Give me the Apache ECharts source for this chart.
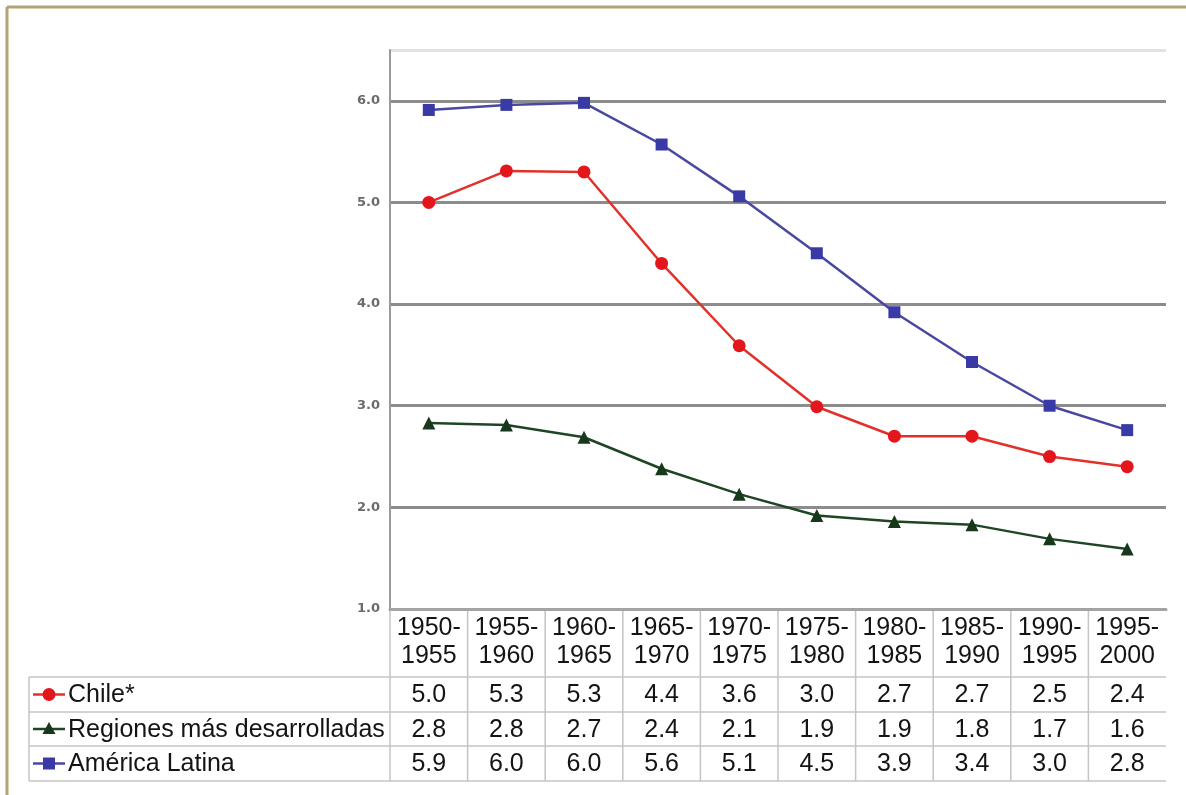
<!DOCTYPE html>
<html>
<head>
<meta charset="utf-8">
<script src="https://cdn.jsdelivr.net/npm/echarts@6/dist/echarts.min.js"></script>
<style>
  html, body { margin: 0; padding: 0; background: #ffffff; }
  #chart { width: 1186px; height: 795px; }
</style>
</head>
<body>
<div id="chart"></div>
<script>
// Tasa global de fecundidad por quinquenio
const periods = ['1950-1955', '1955-1960', '1960-1965', '1965-1970', '1970-1975',
                 '1975-1980', '1980-1985', '1985-1990', '1990-1995', '1995-2000'];
const chile      = [5.00, 5.31, 5.30, 4.40, 3.59, 2.99, 2.70, 2.70, 2.50, 2.40];
const regiones   = [2.83, 2.81, 2.69, 2.38, 2.13, 1.92, 1.86, 1.83, 1.69, 1.59];
const americaLat = [5.91, 5.96, 5.98, 5.57, 5.06, 4.50, 3.92, 3.43, 3.00, 2.76];
const seriesNames = ['Chile*', 'Regiones más desarrolladas', 'América Latina'];

const FONT = '"Liberation Sans", Arial, sans-serif';
const TEXT = '#141414';
const RULE = '#c4c4c4';
const TABLE_FS = 25;

const styles = [
  { line: '#e2312a', mark: '#e3161c', symbol: 'circle',   size: 13 },
  { line: '#1f4624', mark: '#17381a', symbol: 'triangle', size: 13 },
  { line: '#4848a2', mark: '#3a3aa6', symbol: 'rect',     size: 12 }
];
const seriesData = [chile, regiones, americaLat];

const chart = echarts.init(document.getElementById('chart'), null, { renderer: 'canvas' });

const option = {
  backgroundColor: '#ffffff',
  animation: false,
  grid: { left: 390, right: 20, top: 50, bottom: 186, containLabel: false },
  xAxis: {
    type: 'category',
    data: periods,
    boundaryGap: true,
    axisLine: { show: true, lineStyle: { color: '#a3a3a3', width: 3 } },
    axisTick: { show: false },
    axisLabel: {
      interval: 0,
      margin: 5,
      fontFamily: FONT,
      fontSize: TABLE_FS,
      lineHeight: 28,
      color: TEXT,
      formatter: v => v.replace('-', '-\n')
    },
    splitLine: { show: false }
  },
  yAxis: {
    type: 'value',
    min: 1,
    max: 6.5,
    interval: 1,
    axisLine: { show: true, lineStyle: { color: '#9a9a9a', width: 2 } },
    axisTick: { show: false },
    axisLabel: {
      margin: 10,
      fontFamily: '"DejaVu Sans", sans-serif',
      fontWeight: 'bold',
      fontSize: 13,
      color: '#6a6a6a',
      formatter: v => (Number.isInteger(v) ? v.toFixed(1) : '')
    },
    splitLine: {
      show: true,
      lineStyle: {
        width: 3,
        color: ['#a3a3a3', '#8c8c8c', '#8c8c8c', '#8c8c8c', '#8c8c8c', '#8c8c8c', '#e2e2e2']
      }
    }
  },
  series: seriesData.map((d, i) => ({
    name: seriesNames[i],
    type: 'line',
    data: d,
    smooth: false,
    symbol: styles[i].symbol,
    symbolSize: styles[i].size,
    showSymbol: true,
    lineStyle: { color: styles[i].line, width: 2.5 },
    itemStyle: { color: styles[i].mark },
    z: 3 + i
  }))
};
chart.setOption(option);

// Data table under the plot: column rules, row rules, legend keys and values
function buildTable() {
  const xs = periods.map((_, i) => chart.convertToPixel({ xAxisIndex: 0 }, i));
  const band = xs[1] - xs[0];
  const yAxisBase = chart.convertToPixel({ yAxisIndex: 0 }, 1);
  const tableLeft = 29;
  const tableRight = xs[xs.length - 1] + band / 2;
  const rowLines = [677, 712, 746, 781];
  const g = [];

  // frame
  g.push({ type: 'line', shape: { x1: 7, y1: 7, x2: 1186, y2: 7 },
           style: { stroke: '#b3a473', lineWidth: 3 }, silent: true });
  g.push({ type: 'line', shape: { x1: 7, y1: 7, x2: 7, y2: 795 },
           style: { stroke: '#b3a473', lineWidth: 3 }, silent: true });

  // horizontal rules
  rowLines.forEach(y => {
    g.push({ type: 'line', shape: { x1: tableLeft, y1: y, x2: tableRight, y2: y },
             style: { stroke: RULE, lineWidth: 1.5 }, silent: true });
  });
  // left edge of legend column
  g.push({ type: 'line', shape: { x1: tableLeft, y1: rowLines[0], x2: tableLeft, y2: rowLines[3] },
           style: { stroke: RULE, lineWidth: 1.5 }, silent: true });
  // column separators
  xs.forEach(x => {
    const lx = x - band / 2;
    g.push({ type: 'line', shape: { x1: lx, y1: yAxisBase, x2: lx, y2: rowLines[3] },
             style: { stroke: RULE, lineWidth: 1.5 }, silent: true });
  });

  seriesData.forEach((d, r) => {
    const cy = (rowLines[r] + rowLines[r + 1]) / 2;
    const st = styles[r];
    // legend key
    g.push({ type: 'line', shape: { x1: 33, y1: cy, x2: 65, y2: cy },
             style: { stroke: st.line, lineWidth: 2.5 }, silent: true });
    if (st.symbol === 'circle') {
      g.push({ type: 'circle', shape: { cx: 49, cy: cy, r: 6.5 }, style: { fill: st.mark }, silent: true });
    } else if (st.symbol === 'triangle') {
      g.push({ type: 'polygon', shape: { points: [[49, cy - 7], [42.5, cy + 5], [55.5, cy + 5]] },
               style: { fill: st.mark }, silent: true });
    } else {
      g.push({ type: 'rect', shape: { x: 43, y: cy - 6, width: 12, height: 12 },
               style: { fill: st.mark }, silent: true });
    }
    g.push({ type: 'text', x: 68, y: cy + 1, silent: true,
             style: { text: seriesNames[r], fontFamily: FONT, fontSize: TABLE_FS, fill: TEXT,
                      align: 'left', verticalAlign: 'middle' } });
    // values
    d.forEach((v, i) => {
      g.push({ type: 'text', x: xs[i], y: cy + 1, silent: true,
               style: { text: v.toFixed(1), fontFamily: FONT, fontSize: TABLE_FS, fill: TEXT,
                        align: 'center', verticalAlign: 'middle' } });
    });
  });

  chart.setOption({ graphic: { elements: g } });
}
buildTable();
</script>
</body>
</html>
